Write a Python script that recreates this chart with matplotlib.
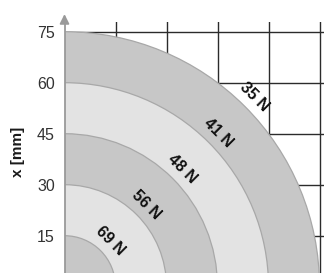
import matplotlib
matplotlib.use('Agg')
import matplotlib.pyplot as plt
from matplotlib.patches import Wedge
import numpy as np

# zone boundaries (mm) and the force printed at each one
radii = [75, 60, 45, 30, 15]
forces = ['35 N', '41 N', '48 N', '56 N', '69 N']
yticks = [15, 30, 45, 60, 75]
xgrid = [15, 30, 45, 60, 75]

dark = '#c7c7c7'
light = '#e3e3e3'

fig = plt.figure(figsize=(3.24, 2.73), dpi=100)
ax = fig.add_axes([64.5 / 324, -13.7 / 273, 272 / 324, 265.2 / 273])
ax.set_xlim(0, 80)
ax.set_ylim(0, 78)

# bands, biggest first so the smaller ones sit on top
for i, r in enumerate(radii):
    fc = dark if i % 2 == 0 else light
    ax.add_patch(Wedge((0, 0), r, 0, 90, facecolor=fc, edgecolor='#a8a8a8',
                       lw=0.9, zorder=2))

for r, f in zip(radii, forces):
    rr = r + 3.9
    ax.text(rr * np.cos(np.pi / 4), rr * np.sin(np.pi / 4), f, rotation=-45,
            ha='center', va='center', fontsize=11.5, fontweight='bold',
            color='#111111', family=['Liberation Sans', 'DejaVu Sans'], zorder=3)

ax.set_xticks(xgrid)
ax.set_yticks(yticks)
ax.grid(True, color='#2b2b2b', lw=1.0)
ax.set_axisbelow(True)
ax.tick_params(axis='x', length=0, labelbottom=False)
ax.tick_params(axis='y', length=0, pad=7, labelsize=11.5, labelcolor='#333333')
for lab in ax.get_yticklabels():
    lab.set_family(['Liberation Sans Narrow', 'Liberation Sans', 'DejaVu Sans'])

for s in ['top', 'right', 'bottom']:
    ax.spines[s].set_visible(False)
ax.spines['left'].set_color('#9a9a9a')
ax.spines['left'].set_linewidth(1.3)
ax.spines['left'].set_zorder(4)

# arrow head on top of the y axis
ax.annotate('', xy=(0, 81), xytext=(0, 77.5),
            arrowprops=dict(arrowstyle='-|>', color='#9a9a9a', lw=1.3,
                            mutation_scale=14),
            annotation_clip=False)

fig.text(18 / 324, 1 - 152 / 273, 'x [mm]', rotation=90, ha='center', va='center',
         fontsize=11, fontweight='bold', color='#1a1a1a',
         family=['Liberation Sans', 'DejaVu Sans'])

fig.savefig('out.png', dpi=100)
